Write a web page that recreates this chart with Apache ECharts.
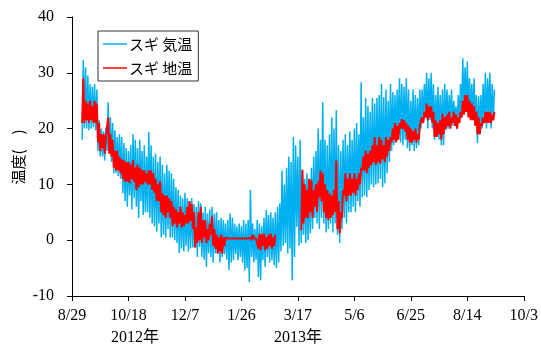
<!DOCTYPE html>
<html>
<head>
<meta charset="utf-8">
<script src="https://cdn.jsdelivr.net/npm/echarts@6/dist/echarts.min.js"></script>
<style>
  html, body { margin: 0; padding: 0; background: #fff; }
  #chart { width: 541px; height: 346px; }
</style>
</head>
<body>
<div id="chart"></div>
<script>
// x axis: days after 2012/8/29
const xTickLabels = ["8/29", "10/18", "12/7", "1/26", "3/17", "5/6", "6/25", "8/14", "10/3"];
const yearLabels = ["2012年", "2013年"];
const seriesNames = ["スギ 気温", "スギ 地温"];

// first reading day and spacing of the read-off envelope values
const dayStart = 9;
const dayStep = 2;

// スギ 気温 (air) : upper / lower swing every 2 days
const airHigh = [
  32.3, 31, 29.5, 28, 27.5, 28, 27, 21.5, 20, 19.5,
  20.2, 24.7, 22, 21, 19.7, 18.5, 19, 18.5, 17.4, 16.5,
  16, 17, 19, 18, 16.5, 18, 16, 17, 15, 19.4,
  17, 15, 15.5, 14, 15, 13.5, 12, 13.5, 12.5, 12,
  11, 9.5, 9, 8, 7.5, 8.5, 7.5, 7, 7.5, 6.5,
  6, 7, 6.6, 5, 6, 4.8, 5.5, 6, 4.8, 5,
  3.6, 4, 3.6, 3, 3.6, 4.8, 4, 3, 2.5, 3,
  2.5, 3.6, 3, 3.6, 9, 3, 2, 3.6, 3, 2.5,
  4, 5.4, 4.5, 5, 4, 5, 6, 6.6, 12.5, 10,
  13, 15, 14, 18.5, 17, 15, 18, 12.5, 11, 12,
  11, 13, 15, 16, 20, 18, 24.7, 18, 17, 19,
  22, 20, 23.3, 17, 16, 18, 19, 17, 19.5, 18,
  20, 21, 19, 28.3, 22, 25.5, 24, 23, 25.5, 24.5,
  25.5, 26, 28, 25.6, 27, 25, 28, 26.5, 26, 27,
  29, 28, 27.5, 29, 27, 25, 27, 26, 25.5, 27,
  27, 28, 30, 29, 30, 28, 26, 27.5, 26, 27,
  28, 27, 26, 27, 25, 24, 26, 28, 32.6, 31,
  32, 29, 28, 29, 26, 25.8, 26, 28, 30, 29,
  30, 28, 27
];
const airLow = [
  18, 20, 20, 19.7, 20, 20.3, 19.7, 16, 15, 15,
  14.3, 16, 16, 14, 12, 12, 11.5, 11, 8.4, 7,
  6, 8, 5.5, 7.5, 6, 4, 7, 4.5, 5, 5,
  4, 3, 2.5, 1.5, 3, 0.5, 1, 0.5, 2, 0.5,
  0.5, 0, -0.5, -2.3, -1.5, -2, -1, -2, -1.5, -1.3,
  -1.3, -3, -1.2, -3, -3.5, -4.8, -2.4, -3, -4, -2.4,
  -2.4, -4, -3, -2.5, -3.5, -5.4, -4, -3.6, -2.5, -3.6,
  -3, -4, -5.4, -5, -7.5, -3, -4, -3.5, -6.6, -7.2,
  -3.6, -4.8, -3, -4, -3.6, -4.5, -5, -4, -2, -1,
  -0.5, -2.4, -1.5, -7.2, -3, 2.4, -1, -0.5, 1, -0.5,
  0, 1.2, 2, 4, 3, 2, 4, 3, 1.4, 2,
  3, 1.4, 3, 1, -0.5, 2, 4, 3, 5, 5,
  6, 5, 7, 6, 7.7, 8, 7.7, 9, 10, 9.5,
  10, 10.2, 11, 9.5, 10.2, 12, 14, 16, 17, 18,
  19, 17.5, 17, 18, 16.5, 16, 17, 16, 16.5, 17,
  20, 21, 22, 20, 21.5, 20, 18, 18.5, 18, 17,
  17, 19.7, 20, 21, 20.5, 21.5, 20, 21, 22, 23,
  23.3, 22.5, 22, 22, 21, 17.4, 19, 20, 21, 20,
  22, 20, 21.5
];

// スギ 地温 (soil) : upper / lower swing every 2 days, null = no record
const soilHigh = [
  29, 25, 24.5, 25, 24, 25, 24.5, 21, 19, 19,
  18.5, 22, 19, 18, 16, 16, 15, 14.5, 14.3, 14,
  14, 13.5, 14.3, 13, 13.5, 13, 12.5, 12.5, 12, 12.5,
  12.5, 12, 11, 10, 10.5, 8.4, 8, 8, 7.5, 7,
  6, 5.5, 5, 6, 5, 4.5, 6, 7, 6.5, 5,
  2.3, 5, 6, 3.5, 3.6, 2, 3, 4.3, 2, 1,
  0.5, 1, 0.5, 0.5, 0.3, 0.3, 0.3, 0.3, 0.3, 0.3,
  0.3, 0.3, 0.3, 0.3, 0.5, 1, 0.3, 0.3, 1.2, 1,
  1.2, 0.5, 1, 1.2, 0.5, 1, null, null, null, null,
  null, null, null, null, null, null, null, 12.6, 10, 9,
  11, 10.8, 9, 10, 10.5, 12.5, 12, 10, 9, 8.4,
  8, 9, 14.3, 7, 5, 9, 12, 11, 12, 11,
  12, 11, 12, 13, 15, 16, 15.5, 16, 17, 18.5,
  17, 18.5, 18, 17, 18.5, 18, 18.5, 20, 21, 20.5,
  21, 21.7, 21.5, 21, 20.5, 20, 19.5, 20, 19, 20.5,
  22, 23, 24.5, 24, 24, 23, 21.5, 21, 21.5, 22.7,
  22, 22.5, 23, 22, 23, 22.5, 22, 23, 25, 26,
  26, 25, 24.5, 24, 23, 22, 21, 22, 23, 23,
  23, 22.5, 23
];
const soilLow = [
  21, 21, 21.5, 21, 21.5, 21, 21, 17.5, 16, 16.5,
  15.5, 18.5, 15.5, 15, 13, 12.5, 12.5, 12, 11, 10.5,
  10.5, 10.2, 11, 10.5, 9, 9.5, 10, 10, 10.5, 10,
  10, 9, 8.5, 7, 7, 5, 4.5, 4, 5, 4,
  2.5, 3, 2.3, 3, 2.3, 2.5, 3, 3, 3.5, 2,
  -1.3, -0.5, 0, -0.5, 0.5, -0.5, 0, 1, -1, -1.5,
  -2.4, -2, -2.4, -1, 0.3, 0.3, 0.3, 0.3, 0.3, 0.3,
  0.3, 0.3, 0.3, 0.3, 0.2, 0, 0.3, 0.3, -1.5, -1.8,
  -1, -1.8, -1.5, -1, -1.5, -1, null, null, null, null,
  null, null, null, null, null, null, null, 1.8, 3, 4,
  4, 5, 4, 6, 5, 7.7, 7, 5, 4, 3.6,
  4, 4.5, 5, 2, 1.2, 4, 8, 7, 8, 8,
  8.5, 8, 9, 10, 12.5, 12.5, 12, 13, 13.5, 14,
  13.5, 14, 13.7, 14.5, 14, 15, 16, 17.5, 18, 17.5,
  18, 20, 20, 19.5, 18, 17.5, 17.5, 18, 17.5, 18,
  21.5, 21, 22, 21.5, 22, 21, 18.5, 18.5, 19, 18,
  19, 20, 20.5, 20, 21, 20.5, 20, 21, 22, 22.5,
  23, 22, 21.5, 21.5, 20.5, 19, 19, 20.5, 21, 21,
  21, 21, 21.5
];

function swing(low, high) {
  const points = [];
  low.forEach((value, index) => {
    const day = dayStart + index * dayStep;
    points.push([day, value]);
    points.push([day + 1, high[index]]);
  });
  return points;
}

const serif = "'Liberation Serif', 'Times New Roman', 'Noto Sans CJK JP', serif";
const gothic = "'Noto Sans CJK JP', sans-serif";

const chart = echarts.init(document.getElementById("chart"), null, { renderer: "canvas" });
chart.setOption({
  animation: false,
  backgroundColor: "#ffffff",
  grid: { left: 72, right: 16, top: 17, bottom: 50 },
  legend: {
    left: 98,
    top: 31,
    orient: "vertical",
    data: seriesNames,
    icon: "rect",
    itemWidth: 24,
    itemHeight: 1.5,
    itemGap: 8,
    padding: [5, 6, 5, 5],
    borderColor: "#333333",
    borderWidth: 1,
    backgroundColor: "#ffffff",
    textStyle: {
      color: "#000000",
      fontSize: 15,
      lineHeight: 16,
      fontFamily: gothic,
      padding: [0, 0, 0, -3],
    },
  },
  xAxis: {
    type: "value",
    min: 0,
    max: 400,
    interval: 50,
    splitLine: { show: false },
    axisLine: { onZero: false, lineStyle: { color: "#000000", width: 1 } },
    axisTick: { show: true, length: 5, lineStyle: { color: "#000000" } },
    axisLabel: {
      color: "#000000",
      fontSize: 16,
      fontFamily: serif,
      margin: 12,
      formatter: (value) => xTickLabels[Math.round(value / 50)],
    },
  },
  yAxis: {
    type: "value",
    min: -10,
    max: 40,
    interval: 10,
    splitLine: { show: false },
    axisLine: { show: true, onZero: false, lineStyle: { color: "#000000", width: 1 } },
    axisTick: { show: true, length: 5, lineStyle: { color: "#000000" } },
    axisLabel: { color: "#000000", fontSize: 16, fontFamily: serif, margin: 18 },
  },
  graphic: [
    {
      type: "text",
      x: 18,
      y: 157,
      rotation: Math.PI / 2,
      style: {
        text: "温度(　)",
        fill: "#000000",
        font: "15px 'Noto Sans CJK JP', sans-serif",
        textAlign: "center",
        textVerticalAlign: "middle",
      },
    },
    {
      type: "text",
      x: 135,
      y: 338,
      style: {
        text: yearLabels[0],
        fill: "#000000",
        font: "16px " + serif,
        textAlign: "center",
        textVerticalAlign: "middle",
      },
    },
    {
      type: "text",
      x: 298,
      y: 338,
      style: {
        text: yearLabels[1],
        fill: "#000000",
        font: "16px " + serif,
        textAlign: "center",
        textVerticalAlign: "middle",
      },
    },
  ],
  series: [
    {
      name: seriesNames[0],
      type: "line",
      symbol: "none",
      color: "#00b0f0",
      lineStyle: { width: 1.5, color: "#00b0f0" },
      data: swing(airLow, airHigh),
    },
    {
      name: seriesNames[1],
      type: "line",
      symbol: "none",
      connectNulls: false,
      color: "#ff0000",
      lineStyle: { width: 2, color: "#ff0000" },
      data: swing(soilLow, soilHigh),
    },
  ],
});
</script>
</body>
</html>
